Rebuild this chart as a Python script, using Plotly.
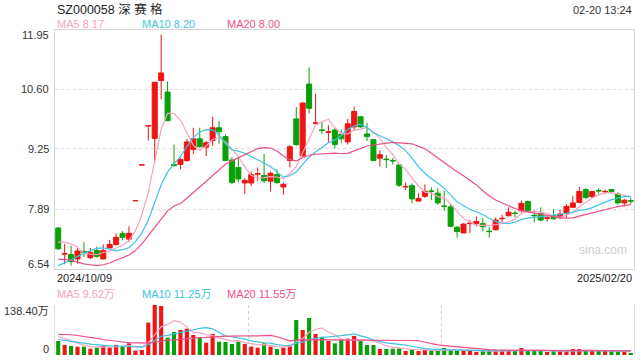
import plotly.graph_objects as go
import pandas as pd

# ---- data ----
opens = [7.46, 6.87, 6.86, 6.76, 6.93, 6.79, 6.95, 6.76, 7.01, 7.09,
         7.34, 7.21, 8.08, 8.89, 9.77, 9.49, 10.80, 10.54, 8.90, 8.90,
         8.99, 9.24, 9.48, 9.29, 9.44, 9.73, 9.53, 9.00, 8.83, 8.48,
         8.48, 8.68, 8.65, 8.52, 8.67, 8.39, 8.99, 9.93, 9.09, 10.72,
         9.83, 9.68, 9.63, 9.68, 9.58, 9.41, 9.75, 9.98, 9.59, 9.46,
         9.04, 9.02, 8.99, 8.89, 8.39, 8.42, 8.07, 8.18, 8.30, 8.25,
         7.96, 7.94, 7.48, 7.35, 7.56, 7.56, 7.56, 7.39, 7.42, 7.67,
         7.74, 7.80, 7.85, 8.06, 7.75, 7.79, 7.68, 7.74, 7.70, 7.80,
         7.93, 8.04, 8.33, 8.17, 8.31, 8.28, 8.33, 8.23, 8.03, 8.08]
highs = [7.48, 7.10, 7.06, 7.00, 7.14, 7.01, 7.04, 7.09, 7.19, 7.34,
         7.39, 7.50, 8.08, 8.89, 9.79, 10.76, 11.84, 10.78, 9.35, 9.05,
         9.48, 9.73, 9.73, 9.43, 9.98, 9.88, 9.58, 9.07, 9.07, 8.59,
         8.74, 8.83, 9.14, 8.74, 8.79, 8.49, 9.34, 10.20, 10.31, 11.10,
         10.50, 9.86, 9.79, 9.74, 9.69, 9.93, 10.21, 9.99, 9.84, 9.48,
         9.22, 9.11, 9.05, 8.90, 8.49, 8.47, 8.25, 8.45, 8.38, 8.36,
         8.30, 8.02, 7.50, 7.57, 7.64, 7.72, 7.68, 7.48, 7.70, 7.76,
         7.93, 7.85, 8.08, 8.08, 7.87, 7.93, 7.74, 7.89, 7.87, 8.00,
         8.19, 8.39, 8.36, 8.30, 8.36, 8.33, 8.33, 8.27, 8.12, 8.14]
lows = [6.97, 6.64, 6.61, 6.65, 6.80, 6.76, 6.79, 6.75, 7.01, 7.06,
        7.18, 7.14, 8.08, 8.89, 9.44, 8.98, 10.38, 9.89, 8.86, 8.79,
        8.96, 9.13, 9.28, 9.09, 9.32, 9.37, 8.98, 8.45, 8.49, 8.23,
        8.41, 8.53, 8.48, 8.29, 8.45, 8.21, 8.83, 9.32, 9.09, 10.05,
        9.83, 9.59, 9.41, 9.26, 9.39, 9.35, 9.66, 9.73, 9.43, 8.98,
        8.85, 8.82, 8.90, 8.39, 8.32, 8.02, 8.07, 8.14, 8.09, 7.99,
        7.85, 7.48, 7.24, 7.35, 7.35, 7.49, 7.39, 7.24, 7.41, 7.59,
        7.72, 7.70, 7.81, 7.84, 7.59, 7.61, 7.61, 7.65, 7.66, 7.70,
        7.93, 8.02, 8.12, 8.13, 8.24, 8.23, 8.24, 7.99, 7.95, 8.00]
closes = [6.99, 6.88, 6.70, 6.94, 6.91, 6.91, 6.82, 6.95, 7.09, 7.25,
          7.25, 7.34, 8.08, 8.89, 9.78, 10.76, 10.97, 9.89, 8.87, 9.01,
          9.41, 9.48, 9.30, 9.39, 9.73, 9.64, 8.99, 8.49, 8.57, 8.54,
          8.67, 8.69, 8.53, 8.70, 8.49, 8.45, 9.30, 9.35, 10.29, 10.17,
          9.84, 9.67, 9.64, 9.35, 9.48, 9.82, 10.10, 9.75, 9.53, 8.99,
          9.12, 9.01, 8.98, 8.43, 8.40, 8.12, 8.13, 8.29, 8.29, 8.03,
          7.95, 7.50, 7.38, 7.55, 7.57, 7.61, 7.49, 7.38, 7.64, 7.68,
          7.82, 7.79, 8.02, 7.85, 7.74, 7.64, 7.69, 7.67, 7.78, 7.95,
          8.03, 8.29, 8.15, 8.29, 8.30, 8.29, 8.29, 8.03, 8.09, 8.07]
# volume in 万
volumes = [38.8, 27.7, 24.9, 23.1, 23.1, 17.5, 20.3, 24.9, 21.2, 27.7,
           23.1, 32.3, 12.0, 13.8, 89.5, 138.4, 135.7, 48.0, 63.7, 69.2,
           72.9, 55.4, 48.9, 34.2, 58.1, 36.9, 36.0, 30.5, 36.9, 30.5,
           23.1, 20.3, 32.3, 23.1, 16.6, 20.3, 25.8, 96.9, 69.2, 102.5,
           58.1, 48.9, 38.8, 32.3, 41.5, 45.2, 52.6, 38.8, 27.7, 27.7,
           16.6, 16.6, 17.5, 18.5, 11.1, 15.7, 11.1, 13.8, 12.0, 11.1,
           19.4, 13.8, 11.1, 11.1, 13.8, 8.3, 11.1, 11.1, 11.1, 11.1,
           11.1, 11.1, 19.4, 13.8, 11.1, 11.1, 8.3, 11.1, 11.1, 11.1,
           16.6, 16.6, 11.1, 11.1, 11.1, 11.1, 11.1, 11.1, 8.3, 5.5]

# moving-average values before a full window exists
ma5_head = [7.14, 7.14, 7.10, 7.03]
ma10_head = [6.61, 6.67, 6.74, 6.82, 6.89, 6.95, 7.00, 7.01, 6.98]
ma20_head = [6.75, 6.75, 6.73, 6.69, 6.65, 6.63, 6.61, 6.63, 6.67, 6.73,
             6.79, 6.85, 6.95, 7.10, 7.29, 7.48, 7.66, 7.85, 7.96]
vma5_head = [51, 45, 38, 32]
vma10_head = [43, 41, 39, 36, 33, 30, 28, 26, 25]
vma20_head = [57, 57, 56, 54, 52, 49, 46, 43, 40, 38,
              36, 34, 33, 32, 33, 36, 39, 41, 42]

price_ticks = [6.54, 7.89, 9.25, 10.60, 11.95]
price_range = [6.54, 11.95]
vol_max_label = "138.40万"
title_text = "SZ000058 深 赛 格"
time_text = "02-20 13:24"
start_date = "2024/10/09"
end_date = "2025/02/20"
ma_labels = ["MA5 8.17", "MA10 8.20", "MA20 8.00"]
vma_labels = ["MA5 9.62万", "MA10 11.25万", "MA20 11.55万"]

RED = "#f01414"
GREEN = "#08a008"
C_MA5 = "#f7a3c0"
C_MA10 = "#3ec3e3"
C_MA20 = "#ee4f86"
FONT = "Liberation Sans, Arial, Noto Sans CJK SC, sans-serif"


def moving(vals, n, head):
    s = pd.Series(vals).rolling(n).mean().tolist()
    return list(head) + s[len(head):]


n = len(closes)
xs = list(range(n))
ma5 = moving(closes, 5, ma5_head)
ma10 = moving(closes, 10, ma10_head)
ma20 = moving(closes, 20, ma20_head)
vma5 = moving(volumes, 5, vma5_head)
vma10 = moving(volumes, 10, vma10_head)
vma20 = moving(volumes, 20, vma20_head)
vol_colors = [RED if c >= o else GREEN for o, c in zip(opens, closes)]

fig = go.Figure()
fig.add_trace(go.Candlestick(
    x=xs, open=opens, high=highs, low=lows, close=closes,
    increasing=dict(line=dict(color=RED, width=1), fillcolor=RED),
    decreasing=dict(line=dict(color=GREEN, width=1), fillcolor=GREEN),
    whiskerwidth=0, xaxis="x", yaxis="y", showlegend=False))
for vals, col in [(ma5, C_MA5), (ma10, C_MA10), (ma20, C_MA20)]:
    fig.add_trace(go.Scatter(x=xs, y=vals, mode="lines", line=dict(color=col, width=1.2),
                             xaxis="x", yaxis="y", showlegend=False, hoverinfo="skip"))
fig.add_trace(go.Bar(x=xs, y=volumes, marker=dict(color=vol_colors, line=dict(width=0)),
                     xaxis="x2", yaxis="y2", showlegend=False))
for vals, col in [(vma5, C_MA5), (vma10, C_MA10), (vma20, C_MA20)]:
    fig.add_trace(go.Scatter(x=xs, y=vals, mode="lines", line=dict(color=col, width=1.2),
                             xaxis="x2", yaxis="y2", showlegend=False, hoverinfo="skip"))

X0, X1 = 55 / 640, 634 / 640
fig.update_layout(
    width=640, height=360, margin=dict(l=0, r=0, t=0, b=0),
    paper_bgcolor="white", plot_bgcolor="white",
    font=dict(family=FONT, size=11, color="#333"),
    boxgap=0.22, boxgroupgap=0, bargap=0.36,
    xaxis=dict(domain=[X0, X1], range=[-0.5, n - 0.5], showgrid=False, zeroline=False,
               showticklabels=False, showline=True, mirror=True, linecolor="#d6d6d6",
               linewidth=1, rangeslider=dict(visible=False), fixedrange=True),
    yaxis=dict(domain=[(360 - 268.7) / 360, (360 - 29.7) / 360], range=price_range,
               tickvals=price_ticks, showticklabels=False, showgrid=True,
               gridcolor="#dcdcdc", griddash="dot", gridwidth=1, zeroline=False,
               showline=True, mirror=True, linecolor="#d6d6d6", linewidth=1),
    xaxis2=dict(domain=[X0, X1], range=[-0.5, n - 0.5], anchor="y2",
                tickvals=[(n / 3) - 0.5, (2 * n / 3) - 0.5], showticklabels=False,
                showgrid=True, gridcolor="#d0d0d0", griddash="dot", zeroline=False,
                showline=False),
    yaxis2=dict(domain=[(360 - 355) / 360, (360 - 305) / 360], range=[0, max(volumes)],
                anchor="x2", tickvals=[0, max(volumes)], showticklabels=False,
                showgrid=True, gridcolor="#d0d0d0", griddash="dot", zeroline=False,
                showline=True, mirror=True, linecolor="#dcdcdc"),
)

ann = []
# price tick labels
for v in price_ticks:
    ys = 0
    if v == price_ticks[-1]:
        ys = -5
    elif v == price_ticks[0]:
        ys = 5
    ann.append(dict(x=51 / 640, xref="paper", y=v, yref="y", text=f"{v:.2f}",
                    showarrow=False, xanchor="right", yanchor="middle", yshift=ys,
                    font=dict(size=11, color="#333")))
ann.append(dict(x=51 / 640, xref="paper", y=max(volumes), yref="y2", text=vol_max_label,
                showarrow=False, xanchor="right", yanchor="middle", yshift=-6,
                font=dict(size=11, color="#333")))
ann.append(dict(x=51 / 640, xref="paper", y=0, yref="y2", text="0",
                showarrow=False, xanchor="right", yanchor="middle", yshift=6,
                font=dict(size=11, color="#333")))
# header
ann.append(dict(x=55 / 640, xref="paper", y=1 - 9 / 360, yref="paper", text=title_text,
                showarrow=False, xanchor="left", yanchor="middle",
                font=dict(size=12.5, color="#222", family="Liberation Sans, Noto Sans CJK SC")))
ann.append(dict(x=X1, xref="paper", y=1 - 10 / 360, yref="paper", text=time_text,
                showarrow=False, xanchor="right", yanchor="middle",
                font=dict(size=11, color="#333")))
for lbl, col, px in zip(ma_labels, [C_MA5, C_MA10, C_MA20], [55, 140, 225]):
    ann.append(dict(x=px / 640, xref="paper", y=1 - 24 / 360, yref="paper", text=lbl,
                    showarrow=False, xanchor="left", yanchor="middle",
                    font=dict(size=11, color=col)))
for lbl, col, px in zip(vma_labels, [C_MA5, C_MA10, C_MA20], [55, 140, 225]):
    ann.append(dict(x=px / 640, xref="paper", y=1 - 294 / 360, yref="paper", text=lbl,
                    showarrow=False, xanchor="left", yanchor="middle",
                    font=dict(size=11, color=col, family="Liberation Sans, Noto Sans CJK SC")))
ann.append(dict(x=X0, xref="paper", y=1 - 278 / 360, yref="paper", text=start_date,
                showarrow=False, xanchor="left", yanchor="middle",
                font=dict(size=11, color="#222")))
ann.append(dict(x=X1, xref="paper", y=1 - 278 / 360, yref="paper", text=end_date,
                showarrow=False, xanchor="right", yanchor="middle",
                font=dict(size=11, color="#222")))
ann.append(dict(x=603 / 640, xref="paper", y=1 - 250 / 360, yref="paper", text="sina.com",
                showarrow=False, xanchor="center", yanchor="middle",
                font=dict(size=12, color="#cfcfcf")))
fig.update_layout(annotations=ann)

fig.write_html("out.html", config={"displayModeBar": False}, post_script=(
    "document.body.style.margin='0';document.body.style.padding='0';"
    "document.body.style.overflow='hidden';"))
